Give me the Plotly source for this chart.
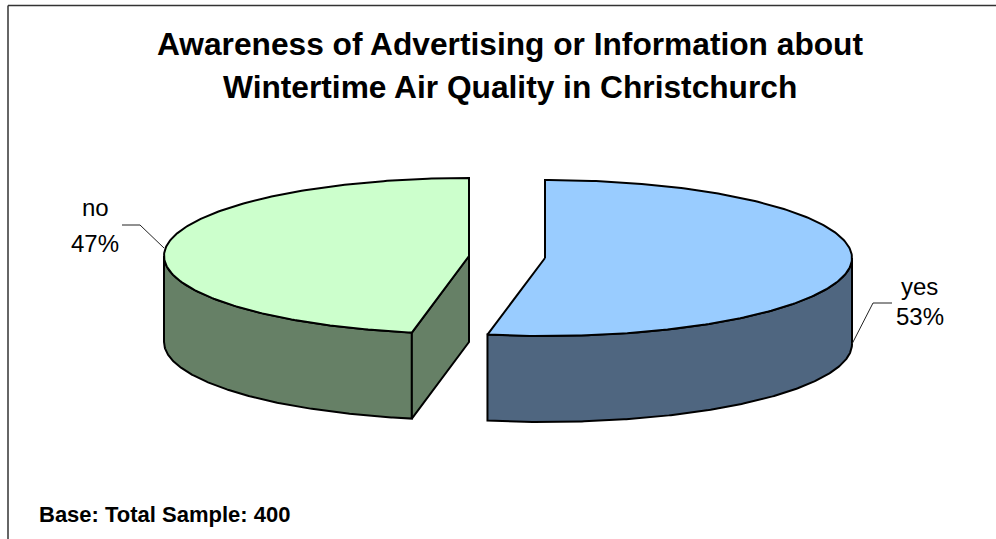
import numpy as np
import plotly.graph_objects as go

categories = ["yes", "no"]
shares = [53, 47]
title_lines = ["Awareness of Advertising or Information about",
               "Wintertime Air Quality in Christchurch"]
footnote = "Base: Total Sample: 400"

FONT = "Liberation Sans"
INK = "#000000"
tops = {"yes": "#99CCFF", "no": "#CCFFCC"}
walls = {"yes": "#4F6680", "no": "#668066"}
apex = {"yes": (545.0, 258.0), "no": (469.0, 256.0)}
RX = {"yes": 307.0, "no": 305.0}
RY = 78.0
DEPTH = 86.0


def rim(cat, a0, a1, drop=0.0):
    t = np.radians(np.linspace(a0, a1, 240))
    cx, cy = apex[cat]
    return cx + RX[cat] * np.sin(t), cy - RY * np.cos(t) + drop


boundary = 360.0 * shares[0] / sum(shares)
spans = {"yes": (0.0, boundary), "no": (boundary, 360.0)}
visible = {"yes": (90.0, boundary), "no": (boundary, 270.0)}

fig = go.Figure()


def poly(xs, ys, fill):
    fig.add_trace(go.Scatter(x=list(xs), y=list(ys), mode="lines", fill="toself", fillcolor=fill,
                             line=dict(color=INK, width=2), hoverinfo="skip",
                             showlegend=False, cliponaxis=False))


for cat in categories:
    a0, a1 = visible[cat]
    x0, y0 = rim(cat, a0, a1)
    x1, y1 = rim(cat, a0, a1, DEPTH)
    poly(np.r_[x0, x1[::-1], x0[0]], np.r_[y0, y1[::-1], y0[0]], walls[cat])
    if cat == "no":
        cx, cy = apex[cat]
        ex, ey = rim(cat, boundary, boundary)
        poly([cx, ex[0], ex[0], cx, cx],
             [cy, ey[0], ey[0] + DEPTH, cy + DEPTH, cy], walls[cat])
    a0, a1 = spans[cat]
    tx, ty = rim(cat, a0, a1)
    cx, cy = apex[cat]
    poly(np.r_[cx, tx, cx], np.r_[cy, ty, cy], tops[cat])

# leader lines anchored on the rim, elbows offset from it
lx, ly = rim("no", 270.0, 270.0)
fig.add_trace(go.Scatter(x=[lx[0], lx[0] - 24, lx[0] - 42], y=[ly[0] - 8, ly[0] - 31, ly[0] - 31],
                         mode="lines", line=dict(color="#222222", width=1),
                         hoverinfo="skip", showlegend=False))
rx, ry = rim("yes", 90.0, 90.0, DEPTH)
fig.add_trace(go.Scatter(x=[rx[0], rx[0] + 21, rx[0] + 40], y=[ry[0], ry[0] - 41, ry[0] - 41],
                         mode="lines", line=dict(color="#222222", width=1),
                         hoverinfo="skip", showlegend=False))


def label(x, y, text, size, bold=False, anchor="center"):
    fig.add_annotation(x=x, y=y, text=f"<b>{text}</b>" if bold else text, showarrow=False,
                       xanchor=anchor, yanchor="middle", xref="x", yref="y",
                       font=dict(family=FONT, size=size, color=INK))


for i, line in enumerate(title_lines):
    label(509.5, 44 + 43 * i, line, 31.7, bold=True)
pct = [f"{round(100 * s / sum(shares))}%" for s in shares]
label(95, 207, categories[1], 24)
label(94.5, 243, pct[1], 24)
label(919, 286, categories[0], 24)
label(920, 316, pct[0], 24)
label(37, 514, footnote, 22, bold=True, anchor="left")

frame = dict(color="#333333", width=1.5)
fig.add_shape(type="line", x0=8, x1=8, y0=5.5, y1=539, line=frame)
fig.add_shape(type="line", x0=8, x1=996, y0=5.5, y1=5.5, line=frame)

fig.update_xaxes(range=[0, 996], visible=False, fixedrange=True)
fig.update_yaxes(range=[539, 0], visible=False, fixedrange=True)
fig.update_layout(width=996, height=539, margin=dict(l=0, r=0, t=0, b=0),
                  paper_bgcolor="white", plot_bgcolor="white", showlegend=False)
fig.write_html("out.html", config={"displayModeBar": False},
               post_script="document.body.style.margin='0';document.body.style.overflow='hidden';")
